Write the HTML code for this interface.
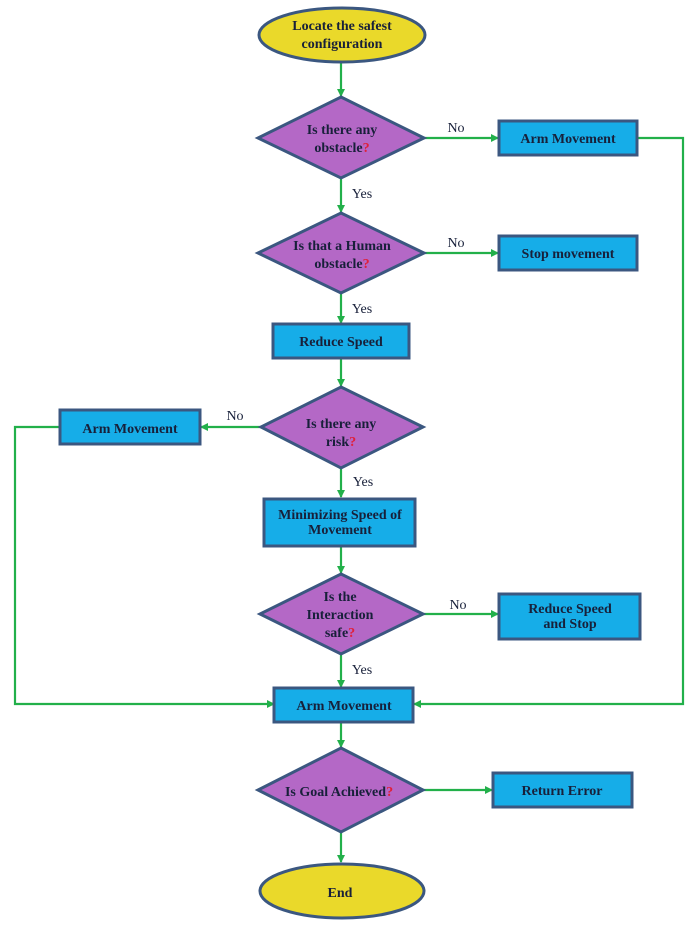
<!DOCTYPE html>
<html><head><meta charset="utf-8"><style>
html,body{margin:0;padding:0;background:#fff;}
svg text{font-family:"Liberation Serif",serif;font-size:14px;fill:#18203a;text-anchor:middle;}
.b{font-weight:bold;}
.q{fill:#e0203a;}
</style></head><body>
<svg width="693" height="926" viewBox="0 0 693 926" xmlns="http://www.w3.org/2000/svg">
<defs><marker id="a" markerWidth="8" markerHeight="8" refX="7" refY="4" orient="auto" markerUnits="userSpaceOnUse"><path d="M0,0 L8,4 L0,8 z" fill="#22b04a"/></marker></defs>
<g stroke="#22b04a" stroke-width="2.2" fill="none">
<line x1="341" y1="62" x2="341" y2="96" marker-end="url(#a)"/>
<line x1="341" y1="178" x2="341" y2="212" marker-end="url(#a)"/>
<line x1="424" y1="138" x2="498" y2="138" marker-end="url(#a)"/>
<line x1="424" y1="253" x2="498" y2="253" marker-end="url(#a)"/>
<line x1="341" y1="293" x2="341" y2="323" marker-end="url(#a)"/>
<line x1="341" y1="358" x2="341" y2="386" marker-end="url(#a)"/>
<line x1="261" y1="427" x2="201" y2="427" marker-end="url(#a)"/>
<line x1="341" y1="468" x2="341" y2="497" marker-end="url(#a)"/>
<line x1="341" y1="546" x2="341" y2="573" marker-end="url(#a)"/>
<line x1="423" y1="614" x2="498" y2="614" marker-end="url(#a)"/>
<line x1="341" y1="654" x2="341" y2="687" marker-end="url(#a)"/>
<polyline points="637,138 683,138 683,704 414,704" marker-end="url(#a)"/>
<polyline points="60,427 15,427 15,704 274,704" marker-end="url(#a)"/>
<line x1="341" y1="722" x2="341" y2="747" marker-end="url(#a)"/>
<line x1="423" y1="790" x2="492" y2="790" marker-end="url(#a)"/>
<line x1="341" y1="832" x2="341" y2="862" marker-end="url(#a)"/>
</g>
<g stroke="#3b5780" stroke-width="3">
<ellipse cx="342" cy="35" rx="83" ry="27" fill="#ead92a"/>
<ellipse cx="342" cy="891" rx="82" ry="27" fill="#ead92a"/>
<g fill="#b468c6">
<polygon points="341,97 424,138 341,178 258,138"/>
<polygon points="341,213 424,253 341,293 258,253"/>
<polygon points="341,387 423,427 341,468 261,427"/>
<polygon points="341,574 423,614 341,654 260,614"/>
<polygon points="341,748 423,790 341,832 258,790"/>
</g>
<g fill="#16ade8">
<rect x="499" y="121" width="138" height="34"/>
<rect x="499" y="236" width="138" height="34"/>
<rect x="273" y="324" width="136" height="34"/>
<rect x="60" y="410" width="140" height="34"/>
<rect x="264" y="499" width="151" height="47"/>
<rect x="499" y="594" width="141" height="45"/>
<rect x="274" y="688" width="139" height="34"/>
<rect x="493" y="773" width="139" height="34"/>
</g>
</g>
<g class="b">
<text x="342" y="30">Locate the safest</text><text x="342" y="48">configuration</text>
<text x="342" y="134">Is there any</text><text x="342" y="152">obstacle<tspan class="q">?</tspan></text>
<text x="342" y="250">Is that a Human</text><text x="342" y="268">obstacle<tspan class="q">?</tspan></text>
<text x="341" y="428">Is there any</text><text x="341" y="446">risk<tspan class="q">?</tspan></text>
<text x="340" y="601">Is the</text><text x="340" y="619">Interaction</text><text x="340" y="637">safe<tspan class="q">?</tspan></text>
<text x="339" y="796">Is Goal Achieved<tspan class="q">?</tspan></text>
<text x="568" y="143">Arm Movement</text>
<text x="568" y="258">Stop movement</text>
<text x="341" y="346">Reduce Speed</text>
<text x="130" y="433">Arm Movement</text>
<text x="340" y="519">Minimizing Speed of</text><text x="340" y="534">Movement</text>
<text x="570" y="613">Reduce Speed</text><text x="570" y="628">and Stop</text>
<text x="344" y="710">Arm Movement</text>
<text x="562" y="795">Return Error</text>
<text x="340" y="897">End</text>
</g>
<g>
<text x="456" y="132">No</text>
<text x="456" y="247">No</text>
<text x="235" y="420">No</text>
<text x="458" y="609">No</text>
<text x="362" y="198">Yes</text>
<text x="362" y="313">Yes</text>
<text x="363" y="486">Yes</text>
<text x="362" y="674">Yes</text>
</g>
</svg>
</body></html>
